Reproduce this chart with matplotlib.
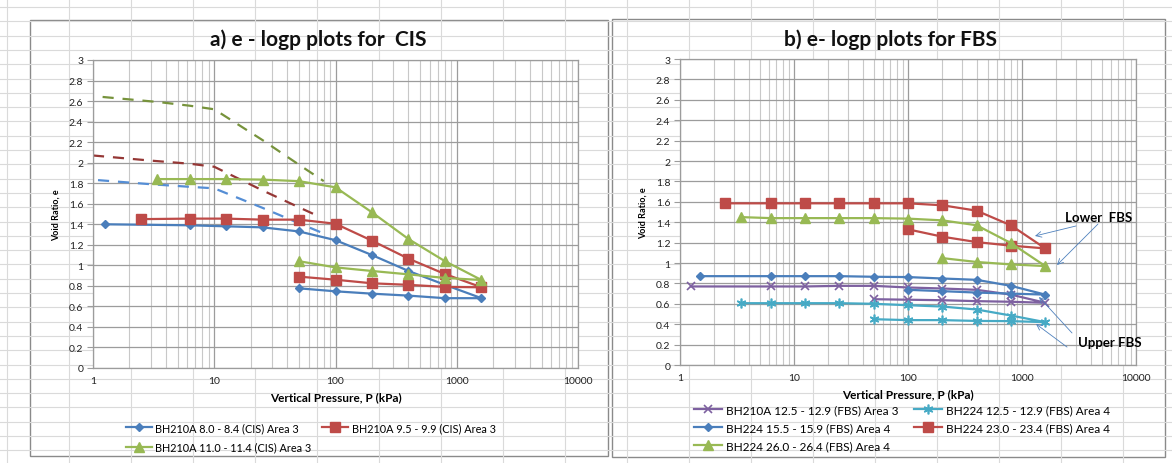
import matplotlib
matplotlib.use("Agg")
import matplotlib.pyplot as plt
from matplotlib.patches import Rectangle
from matplotlib.ticker import FixedLocator, FuncFormatter, LogLocator, NullFormatter

plt.rcParams["font.family"] = ["Lato", "DejaVu Sans"]

# -----------------------------------------------
# data : a) CIS
# -----------------------------------------------
cis_labels = ["BH210A 8.0 - 8.4 (CIS) Area 3",
              "BH210A 9.5 - 9.9 (CIS) Area 3",
              "BH210A 11.0 - 11.4 (CIS) Area 3"]

p_cis_1 = [1.25, 6.25, 12.5, 25, 50, 100, 200, 400, 800, 1600, 800, 400, 200, 100, 50]
e_cis_1 = [1.40, 1.39, 1.38, 1.37, 1.33, 1.245, 1.10, 0.945, 0.81, 0.68, 0.68, 0.705, 0.724, 0.747, 0.776]
p_cis_2 = [2.5, 6.25, 12.5, 25, 50, 100, 200, 400, 800, 1600, 800, 400, 200, 100, 50]
e_cis_2 = [1.45, 1.455, 1.455, 1.445, 1.445, 1.405, 1.24, 1.065, 0.915, 0.786, 0.79, 0.81, 0.825, 0.86, 0.89]
p_cis_3 = [3.4, 6.25, 12.5, 25, 50, 100, 200, 400, 800, 1600, 800, 400, 200, 100, 50]
e_cis_3 = [1.84, 1.84, 1.84, 1.835, 1.82, 1.76, 1.516, 1.256, 1.04, 0.857, 0.877, 0.912, 0.945, 0.98, 1.04]

# dashed curves (no legend entry)
p_dash_1 = [1.1, 3, 6.25, 10, 25, 50, 80]
e_dash_1 = [1.83, 1.79, 1.765, 1.75, 1.56, 1.41, 1.31]
p_dash_2 = [1.0, 3, 6.25, 10, 25, 50, 75]
e_dash_2 = [2.07, 2.02, 1.99, 1.96, 1.73, 1.565, 1.47]
p_dash_3 = [1.2, 3.5, 6.25, 10, 25, 50, 80]
e_dash_3 = [2.64, 2.59, 2.555, 2.52, 2.22, 1.98, 1.82]

# -----------------------------------------------
# data : b) FBS
# -----------------------------------------------
fbs_labels = ["BH210A 12.5 - 12.9 (FBS) Area 3",
              "BH224 12.5 - 12.9 (FBS) Area 4",
              "BH224 15.5 - 15.9 (FBS) Area 4",
              "BH224 23.0 - 23.4 (FBS) Area 4",
              "BH224 26.0 - 26.4 (FBS) Area 4"]

p_fbs_1 = [1.25, 6.25, 12.5, 25, 50, 100, 200, 400, 800, 1600, 800, 400, 200, 100, 50]
e_fbs_1 = [0.77, 0.77, 0.77, 0.776, 0.776, 0.76, 0.75, 0.737, 0.69, 0.61, 0.62, 0.626, 0.635, 0.64, 0.645]
p_fbs_2 = [3.4, 6.25, 12.5, 25, 50, 100, 200, 400, 800, 1600, 800, 400, 200, 100, 50]
e_fbs_2 = [0.606, 0.606, 0.606, 0.606, 0.60, 0.586, 0.573, 0.544, 0.485, 0.42, 0.43, 0.432, 0.44, 0.44, 0.449]
p_fbs_3 = [1.5, 6.25, 12.5, 25, 50, 100, 200, 400, 800, 1600, 800, 400, 200, 100]
e_fbs_3 = [0.871, 0.871, 0.871, 0.871, 0.865, 0.862, 0.848, 0.835, 0.776, 0.69, 0.70, 0.71, 0.724, 0.737]
p_fbs_4 = [2.5, 6.25, 12.5, 25, 50, 100, 200, 400, 800, 1600, 800, 400, 200, 100]
e_fbs_4 = [1.585, 1.585, 1.585, 1.585, 1.585, 1.585, 1.566, 1.513, 1.369, 1.143, 1.17, 1.205, 1.258, 1.33]
p_fbs_5 = [3.4, 6.25, 12.5, 25, 50, 100, 200, 400, 800, 1600, 800, 400, 200]
e_fbs_5 = [1.45, 1.44, 1.44, 1.44, 1.44, 1.435, 1.418, 1.37, 1.195, 0.97, 0.986, 1.01, 1.048]

BLUE = "#4A7EBB"
RED = "#BE4B48"
GREEN = "#98B954"
PURPLE = "#7D60A0"
CYAN = "#46AAC5"
GRID_MAJ = "#9C9C9C"
GRID_MIN = "#C8C8C8"

W, H = 1172, 464
fig = plt.figure(figsize=(W / 100, H / 100), dpi=100)

# -----------------------------------------------
# spreadsheet background + chart boxes
# -----------------------------------------------
bg = fig.add_axes([0, 0, 1, 1], zorder=-5)
bg.set_xlim(0, W)
bg.set_ylim(H, 0)
bg.axis("off")
y = 8
while y < H:
    bg.axhline(y, color="#DADADA", lw=0.8)
    y += 14.3
x = 7
while x < W:
    bg.axvline(x, color="#DADADA", lw=0.8)
    x += 62
bg.add_patch(Rectangle((30, 21), 578, 436, facecolor="white", edgecolor="#8A8A8A", lw=1))
bg.add_patch(Rectangle((612, 20), 553, 438, facecolor="white", edgecolor="#8A8A8A", lw=1))


def style_axes(ax):
    ax.set_xscale("log")
    ax.set_xlim(1, 10000)
    ax.set_ylim(0, 3)
    ax.yaxis.set_major_locator(FixedLocator([i * 0.2 for i in range(16)]))
    ax.yaxis.set_major_formatter(FuncFormatter(lambda v, pos: f"{v:g}"))
    ax.xaxis.set_major_locator(FixedLocator([1, 10, 100, 1000, 10000]))
    ax.xaxis.set_major_formatter(FuncFormatter(lambda v, pos: f"{v:g}"))
    ax.xaxis.set_minor_locator(LogLocator(base=10, subs=range(2, 10)))
    ax.xaxis.set_minor_formatter(NullFormatter())
    ax.grid(True, which="major", color=GRID_MAJ, lw=0.9)
    ax.grid(True, which="minor", axis="x", color=GRID_MIN, lw=0.8)
    ax.set_axisbelow(True)
    for s in ax.spines.values():
        s.set_color(GRID_MAJ)
        s.set_linewidth(0.9)
    ax.tick_params(axis="both", which="major", length=4, color=GRID_MAJ,
                   labelsize=7.5, labelcolor="#222222", pad=3)
    ax.tick_params(axis="x", which="minor", length=0)
    ax.tick_params(axis="x", which="major", length=0, pad=6)
    ax.set_xlabel("Vertical Pressure, P (kPa)", fontsize=8.5, fontweight="bold", labelpad=4)
    ax.set_ylabel("Void Ratio, e", fontsize=6.5, fontweight="bold", labelpad=6)


# -----------------------------------------------
# a) CIS
# -----------------------------------------------
ax1 = fig.add_axes([93 / W, 1 - 369 / H, 485 / W, 308 / H])
style_axes(ax1)
lw = 1.6
ax1.plot(p_dash_1, e_dash_1, color="#558ED5", lw=1.6, ls=(0, (5, 4)))
ax1.plot(p_dash_2, e_dash_2, color="#953735", lw=1.6, ls=(0, (5, 4)))
ax1.plot(p_dash_3, e_dash_3, color="#77933C", lw=1.6, ls=(0, (5, 4)))
h1, = ax1.plot(p_cis_1, e_cis_1, color=BLUE, lw=lw, marker="D", ms=4.5, label=cis_labels[0])
h2, = ax1.plot(p_cis_2, e_cis_2, color=RED, lw=lw, marker="s", ms=6.5, label=cis_labels[1])
h3, = ax1.plot(p_cis_3, e_cis_3, color=GREEN, lw=lw, marker="^", ms=7, label=cis_labels[2])

fig.text(318 / W, 1 - 40 / H, "a) e - logp plots for  CIS", ha="center", va="center",
         fontsize=15, fontweight="bold", color="#111111")

fig.legend([h1, h3, h2], [cis_labels[0], cis_labels[2], cis_labels[1]],
           loc="upper left", bbox_to_anchor=(126 / W, 1 - 423 / H), ncol=2, frameon=False,
           fontsize=7.8, handlelength=2.4, handletextpad=0.3, columnspacing=1.0,
           labelspacing=0.8, borderpad=0, borderaxespad=0)

# -----------------------------------------------
# b) FBS
# -----------------------------------------------
ax2 = fig.add_axes([680 / W, 1 - 366 / H, 456 / W, 306 / H])
style_axes(ax2)
g1, = ax2.plot(p_fbs_1, e_fbs_1, color=PURPLE, lw=lw, marker="x", ms=6, mew=1.2)
g2, = ax2.plot(p_fbs_2, e_fbs_2, color=CYAN, lw=lw, marker=(6, 2, 0), ms=7, mew=1.2)
g3, = ax2.plot(p_fbs_3, e_fbs_3, color=BLUE, lw=lw, marker="D", ms=4.5)
g4, = ax2.plot(p_fbs_4, e_fbs_4, color=RED, lw=lw, marker="s", ms=6.5)
g5, = ax2.plot(p_fbs_5, e_fbs_5, color=GREEN, lw=lw, marker="^", ms=7)

fig.text(890 / W, 1 - 40 / H, "b) e- logp plots for FBS", ha="center", va="center",
         fontsize=15, fontweight="bold", color="#111111")

arrow = dict(arrowstyle="->", color="#4F81BD", lw=0.6, shrinkA=0, shrinkB=0)
ax2.text(2384, 1.45, "Lower  FBS", fontsize=9.5, fontweight="bold", va="center", ha="left")
ax2.annotate("", xy=(1300, 1.265), xytext=(2978, 1.363), arrowprops=arrow)
ax2.annotate("", xy=(2027, 0.98), xytext=(4640, 1.382), arrowprops=arrow)
ax2.text(3100, 0.225, "Upper FBS", fontsize=9.5, fontweight="bold", va="center", ha="left")
ax2.annotate("", xy=(1410, 0.667), xytext=(2746, 0.314), arrowprops=arrow)
ax2.annotate("", xy=(1327, 0.402), xytext=(2483, 0.176), arrowprops=arrow)

fig.legend([g1, g3, g5, g2, g4],
           [fbs_labels[0], fbs_labels[2], fbs_labels[4], fbs_labels[1], fbs_labels[3]],
           loc="upper left", bbox_to_anchor=(694 / W, 1 - 405 / H), ncol=2, frameon=False,
           fontsize=8.5, handlelength=2.4, handletextpad=0.3, columnspacing=1.3,
           labelspacing=0.6, borderpad=0, borderaxespad=0)

fig.savefig("out.png", dpi=100)
